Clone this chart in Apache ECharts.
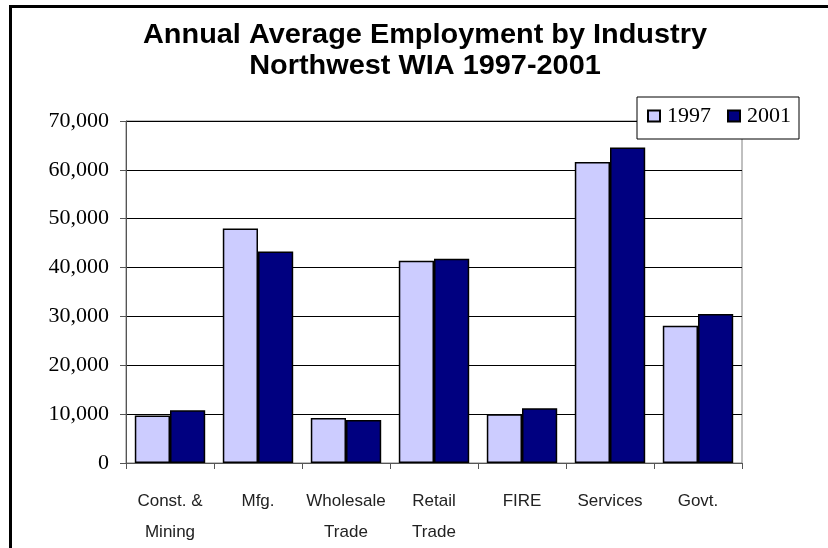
<!DOCTYPE html>
<html>
<head>
<meta charset="utf-8">
<script src="https://cdn.jsdelivr.net/npm/echarts@6/dist/echarts.min.js"></script>
<style>
  html, body { margin: 0; padding: 0; background: #fff; }
  #chart { width: 828px; height: 548px; }
</style>
</head>
<body>
<div id="chart"></div>
<script>
// Annual average employment by industry, Northwest WIA
const categories = ['Const. &\nMining', 'Mfg.', 'Wholesale\nTrade', 'Retail\nTrade', 'FIRE', 'Services', 'Govt.'];
const years = ['1997', '2001'];
const jobs1997 = [9700, 48000, 9200, 41400, 10000, 61600, 28100];
const jobs2001 = [10800, 43300, 8800, 41800, 11200, 64600, 30500];
const yTicks = { min: 0, max: 70000, interval: 10000 };

const chart = echarts.init(document.getElementById('chart'));

const barBorder = { borderColor: '#000', borderWidth: 1.5 };

chart.setOption({
  animation: false,
  backgroundColor: '#fff',
  graphic: [
    {
      type: 'rect',
      shape: { x: 10.5, y: 6.5, width: 900, height: 700 },
      style: { fill: 'none', stroke: '#000', lineWidth: 3 },
      z: 100
    },
    {
      type: 'text',
      x: 425,
      y: 20,
      scaleX: 1.07,
      style: {
        x: 0, y: 0,
        text: 'Annual Average Employment by Industry\nNorthwest WIA 1997-2001',
        font: 'bold 27px "Liberation Sans", Arial, sans-serif',
        fill: '#000',
        textAlign: 'center',
        lineHeight: 31
      }
    }
  ],
  legend: {
    data: years,
    left: 637,
    top: 97,
    padding: [8, 8, 12, 10],
    itemGap: 16,
    itemWidth: 12,
    itemHeight: 11,
    borderColor: '#000',
    borderWidth: 1,
    backgroundColor: '#fff',
    icon: 'rect',
    z: 10,
    textStyle: {
      fontFamily: '"Liberation Serif", "Times New Roman", serif',
      fontSize: 22,
      color: '#000',
      padding: [0, 0, 0, 2]
    }
  },
  grid: {
    left: 126,
    right: 86,
    top: 121,
    bottom: 84,
    show: true,
    borderColor: '#808080',
    borderWidth: 1,
    backgroundColor: 'transparent'
  },
  xAxis: {
    type: 'category',
    data: categories,
    axisLine: { lineStyle: { color: '#555', width: 1 } },
    axisTick: { show: true, length: 6, lineStyle: { color: '#555' } },
    axisLabel: {
      interval: 0,
      margin: 23,
      fontFamily: '"Liberation Sans", Arial, sans-serif',
      fontSize: 17,
      color: '#222',
      lineHeight: 31
    },
    splitLine: { show: false }
  },
  yAxis: {
    type: 'value',
    min: yTicks.min,
    max: yTicks.max,
    interval: yTicks.interval,
    axisLine: { show: true, lineStyle: { color: '#555', width: 1 } },
    axisTick: { show: true, inside: false, length: 6, lineStyle: { color: '#555' } },
    axisLabel: {
      margin: 17,
      fontFamily: '"Liberation Serif", "Times New Roman", serif',
      fontSize: 22,
      color: '#000',
      formatter: v => v.toLocaleString('en-US')
    },
    splitLine: { show: true, lineStyle: { color: '#000', width: 1 } }
  },
  series: [
    {
      name: years[0],
      type: 'bar',
      data: jobs1997,
      barGap: '0%',
      barCategoryGap: '20%',
      itemStyle: Object.assign({ color: '#CCCCFF' }, barBorder)
    },
    {
      name: years[1],
      type: 'bar',
      data: jobs2001,
      barGap: '0%',
      barCategoryGap: '20%',
      itemStyle: Object.assign({ color: '#000080' }, barBorder)
    }
  ]
});
</script>
</body>
</html>
